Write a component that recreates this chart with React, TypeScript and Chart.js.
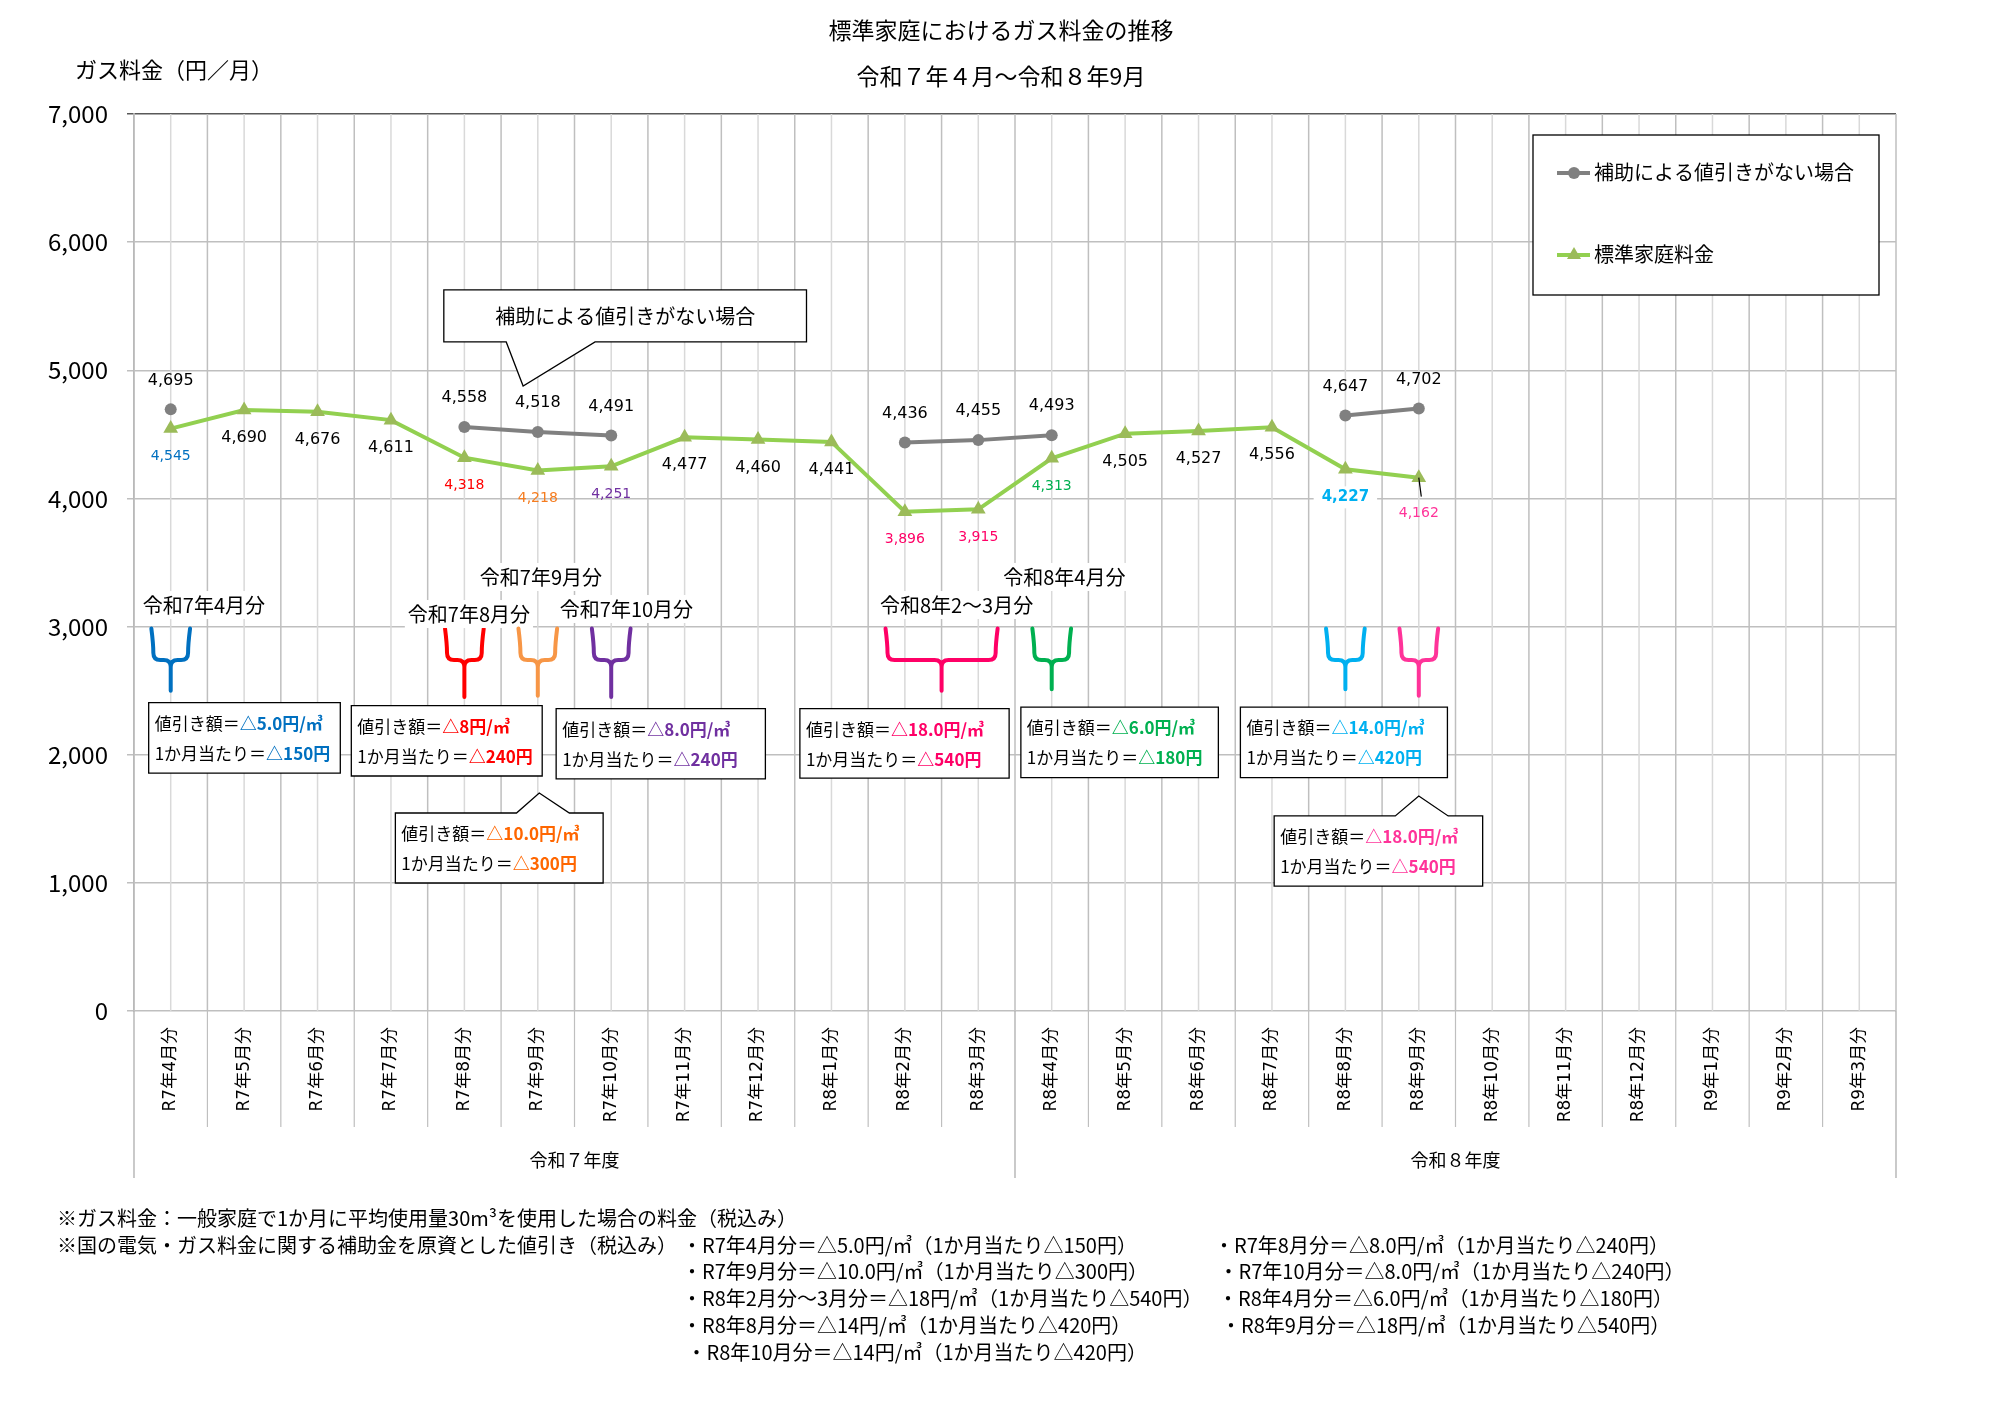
import React, { useEffect, useRef } from 'react';
import { Chart, registerables } from 'chart.js';

Chart.register(...registerables);

// ---------------- data ----------------
const categories = [
  'R7年4月分', 'R7年5月分', 'R7年6月分', 'R7年7月分', 'R7年8月分', 'R7年9月分',
  'R7年10月分', 'R7年11月分', 'R7年12月分', 'R8年1月分', 'R8年2月分', 'R8年3月分',
  'R8年4月分', 'R8年5月分', 'R8年6月分', 'R8年7月分', 'R8年8月分', 'R8年9月分',
  'R8年10月分', 'R8年11月分', 'R8年12月分', 'R9年1月分', 'R9年2月分', 'R9年3月分',
];
const fiscalYears = ['令和７年度', '令和８年度'];

const noSubsidyName = '補助による値引きがない場合';
const noSubsidy: (number | null)[] = [
  4695, null, null, null, 4558, 4518, 4491, null, null, null, 4436, 4455,
  4493, null, null, null, 4647, 4702, null, null, null, null, null, null,
];

const standardName = '標準家庭料金';
const standard: (number | null)[] = [
  4545, 4690, 4676, 4611, 4318, 4218, 4251, 4477, 4460, 4441, 3896, 3915,
  4313, 4505, 4527, 4556, 4227, 4162, null, null, null, null, null, null,
];
const standardLabelColors = [
  '#0070c0', '#000000', '#000000', '#000000', '#ff0000', '#f57c1f', '#7030a0', '#000000', '#000000', '#000000', '#ff0066', '#ff0066',
  '#00b050', '#000000', '#000000', '#000000', '#00b0f0', '#ff3399',
];

const yTicks = [0, 1000, 2000, 3000, 4000, 5000, 6000, 7000];

const titleLines = ['標準家庭におけるガス料金の推移', '令和７年４月～令和８年9月'];
const yAxisTitle = 'ガス料金（円／月）';
const calloutText = '補助による値引きがない場合';

// discount periods (first/last category index, texts, colours)
const periodLabels = ['令和7年4月分', '令和7年8月分', '令和7年9月分', '令和7年10月分', '令和8年2～3月分', '令和8年4月分', '', ''];
const periodFrom = [0, 4, 5, 6, 10, 12, 16, 17];
const periodTo = [0, 4, 5, 6, 11, 12, 16, 17];
const periodPerM3 = ['△5.0円/㎥', '△8円/㎥', '△10.0円/㎥', '△8.0円/㎥', '△18.0円/㎥', '△6.0円/㎥', '△14.0円/㎥', '△18.0円/㎥'];
const periodPerMonth = ['△150円', '△240円', '△300円', '△240円', '△540円', '△180円', '△420円', '△540円'];
const periodBracketColors = ['#0070c0', '#ff0000', '#f79646', '#7030a0', '#ff0066', '#00b050', '#00b0f0', '#ff3399'];
const periodTextColors = ['#0070c0', '#ff0000', '#ff6600', '#7030a0', '#ff0066', '#00b050', '#00b0f0', '#ff3399'];

const footLeft = [
  '※ガス料金：一般家庭で1か月に平均使用量30m³を使用した場合の料金（税込み）',
  '※国の電気・ガス料金に関する補助金を原資とした値引き（税込み）',
];
const footMid = [
  '・R7年4月分＝△5.0円/㎥（1か月当たり△150円）',
  '・R7年9月分＝△10.0円/㎥（1か月当たり△300円）',
  '・R8年2月分～3月分＝△18円/㎥（1か月当たり△540円）',
  '・R8年8月分＝△14円/㎥（1か月当たり△420円）',
  ' ・R8年10月分＝△14円/㎥（1か月当たり△420円）',
];
const footRight = [
  '・R7年8月分＝△8.0円/㎥（1か月当たり△240円）',
  ' ・R7年10月分＝△8.0円/㎥（1か月当たり△240円）',
  '・R8年4月分＝△6.0円/㎥（1か月当たり△180円）',
  '・R8年9月分＝△18円/㎥（1か月当たり△540円）',
];

// ---------------- layout (category units / value units) ----------------
const periodLabelPos: ([number, number] | null)[] = [
  [-0.38, 3168], [3.23, 3098], [4.21, 3387], [5.30, 3137], [9.66, 3168], [11.34, 3387], null, null,
];
const periodTipValue = [2500, 2450, 2460, 2450, 2500, 2510, 2510, 2460];
const periodBox: [number, number, number, number][] = [
  [-0.30, 2.31, 2406, 1857],
  [2.46, 5.06, 2383, 1834],
  [3.06, 5.89, 1545, 999],
  [5.25, 8.10, 2359, 1811],
  [8.57, 11.42, 2359, 1818],
  [11.58, 14.27, 2372, 1821],
  [14.57, 17.39, 2372, 1821],
  [15.03, 17.87, 1522, 975],
];
const periodPointer: ([number, number, number, number] | null)[] = [
  null, null, [4.71, 5.43, 5.02, 1701], null, null, null, null, [16.68, 17.40, 17.0, 1678],
];
const calloutBox: [number, number, number, number] = [3.72, 8.66, 5627, 5221];
const calloutPointer: [number, number, number, number] = [4.57, 5.78, 4.80, 4877];

const JP = '"Noto Sans CJK JP", "Noto Sans", sans-serif';
const NUM = '"DejaVu Sans", "Noto Sans CJK JP", sans-serif';

type Part = { text: string; font: string; color: string };

function drawParts(ctx: CanvasRenderingContext2D, x: number, y: number, parts: Part[]) {
  let cx = x;
  ctx.textAlign = 'left';
  ctx.textBaseline = 'middle';
  for (const p of parts) {
    ctx.font = p.font;
    ctx.fillStyle = p.color;
    ctx.fillText(p.text, cx, y);
    cx += ctx.measureText(p.text).width;
  }
}

function boxPath(
  ctx: CanvasRenderingContext2D,
  l: number, t: number, r: number, b: number,
  ptr: { x0: number; x1: number; tx: number; ty: number } | null,
) {
  ctx.beginPath();
  ctx.moveTo(l, t);
  if (ptr && ptr.ty < t) {
    ctx.lineTo(ptr.x0, t);
    ctx.lineTo(ptr.tx, ptr.ty);
    ctx.lineTo(ptr.x1, t);
  }
  ctx.lineTo(r, t);
  ctx.lineTo(r, b);
  if (ptr && ptr.ty > b) {
    ctx.lineTo(ptr.x1, b);
    ctx.lineTo(ptr.tx, ptr.ty);
    ctx.lineTo(ptr.x0, b);
  }
  ctx.lineTo(l, b);
  ctx.closePath();
}

const overlayPlugin = {
  id: 'overlay',
  beforeDatasetsDraw(chart: any) {
    const ctx: CanvasRenderingContext2D = chart.ctx;
    const xs = chart.scales.x;
    const { top, bottom } = chart.chartArea;
    const xAt = (c: number) => xs.getPixelForValue(c);
    const n = categories.length;
    ctx.save();
    // vertical grid at boundaries and centres
    for (let k = 0; k <= 2 * n; k++) {
      const c = k / 2 - 0.5;
      const px = xAt(c);
      ctx.beginPath();
      ctx.strokeStyle = k % 2 === 0 ? '#bfbfbf' : '#d9d9d9';
      ctx.lineWidth = 1.5;
      ctx.moveTo(px, top);
      ctx.lineTo(px, bottom);
      ctx.stroke();
    }
    // category separators in axis area
    for (let i = 1; i < n; i++) {
      if (i === 12) continue;
      const px = xAt(i - 0.5);
      ctx.beginPath();
      ctx.strokeStyle = '#bfbfbf';
      ctx.lineWidth = 1.2;
      ctx.moveTo(px, bottom);
      ctx.lineTo(px, bottom + 116);
      ctx.stroke();
    }
    // fiscal-year separators
    for (const c of [-0.5, 11.5, 23.5]) {
      const px = xAt(c);
      ctx.beginPath();
      ctx.strokeStyle = '#a6a6a6';
      ctx.lineWidth = 1.2;
      ctx.moveTo(px, bottom);
      ctx.lineTo(px, bottom + 167);
      ctx.stroke();
    }
    ctx.fillStyle = '#000';
    ctx.font = `18px ${JP}`;
    ctx.textAlign = 'center';
    ctx.textBaseline = 'middle';
    ctx.fillText(fiscalYears[0], xAt(5.5), bottom + 149);
    ctx.fillText(fiscalYears[1], xAt(17.5), bottom + 149);
    ctx.restore();
  },
  afterDatasetsDraw(chart: any) {
    const ctx: CanvasRenderingContext2D = chart.ctx;
    const xs = chart.scales.x;
    const ys = chart.scales.y;
    const xAt = (c: number) => xs.getPixelForValue(c);
    const yAt = (v: number) => ys.getPixelForValue(v);
    ctx.save();

    // data labels: no-subsidy series (above)
    const m0 = chart.getDatasetMeta(0);
    ctx.textAlign = 'center';
    ctx.textBaseline = 'middle';
    noSubsidy.forEach((v, i) => {
      if (v == null) return;
      const pt = m0.data[i];
      ctx.font = `16px ${NUM}`;
      ctx.fillStyle = '#000';
      ctx.fillText(v.toLocaleString('en-US'), pt.x, pt.y - 29);
    });
    // standard series (below)
    const m1 = chart.getDatasetMeta(1);
    standard.forEach((v, i) => {
      if (v == null) return;
      const pt = m1.data[i];
      const color = standardLabelColors[i];
      const txt = v.toLocaleString('en-US');
      let dy = 28;
      let font = color === '#000000' ? `16px ${NUM}` : `14px ${NUM}`;
      if (i === 16) {
        font = `bold 15px ${NUM}`;
        ctx.font = font;
        const w = ctx.measureText(txt).width;
        ctx.fillStyle = '#fff';
        ctx.fillRect(pt.x - w / 2 - 8, pt.y + dy - 11, w + 16, 22);
      }
      if (i === 17) {
        dy = 36;
        ctx.beginPath();
        ctx.strokeStyle = '#000';
        ctx.lineWidth = 1.2;
        ctx.moveTo(pt.x, pt.y);
        ctx.lineTo(pt.x + 2.5, pt.y + 19);
        ctx.stroke();
      }
      ctx.font = font;
      ctx.fillStyle = color;
      ctx.textAlign = 'center';
      ctx.fillText(txt, pt.x, pt.y + dy);
    });

    // top callout
    {
      const [c0, c1, v0, v1] = calloutBox;
      const [p0, p1, pc, pv] = calloutPointer;
      const l = xAt(c0), r = xAt(c1), t = yAt(v0), b = yAt(v1);
      boxPath(ctx, l, t, r, b, { x0: xAt(p0), x1: xAt(p1), tx: xAt(pc), ty: yAt(pv) });
      ctx.fillStyle = '#fff';
      ctx.fill();
      ctx.strokeStyle = '#000';
      ctx.lineWidth = 1.3;
      ctx.stroke();
      ctx.font = `20px ${JP}`;
      ctx.fillStyle = '#000';
      ctx.textAlign = 'center';
      ctx.textBaseline = 'middle';
      ctx.fillText(calloutText, (l + r) / 2, (t + b) / 2);
    }

    // discount periods
    for (let k = 0; k < periodFrom.length; k++) {
      // bracket
      const xl = xAt(periodFrom[k] - 0.25);
      const xr = xAt(periodTo[k] + 0.25);
      const xc = (xl + xr) / 2;
      const yTop = yAt(2985);
      const yH = yAt(2740);
      const yTip = yAt(periodTipValue[k]);
      const rr = 7;
      ctx.beginPath();
      ctx.strokeStyle = periodBracketColors[k];
      ctx.lineWidth = 4;
      ctx.lineCap = 'round';
      ctx.lineJoin = 'round';
      ctx.moveTo(xl - 1, yTop);
      ctx.quadraticCurveTo(xl + 1, yTop + (yH - yTop) * 0.5, xl + 1, yH - rr);
      ctx.quadraticCurveTo(xl + 1, yH, xl + 1 + rr, yH);
      ctx.lineTo(xc - rr, yH);
      ctx.quadraticCurveTo(xc, yH, xc, yH + rr);
      ctx.lineTo(xc, yTip);
      ctx.moveTo(xr + 1, yTop);
      ctx.quadraticCurveTo(xr - 1, yTop + (yH - yTop) * 0.5, xr - 1, yH - rr);
      ctx.quadraticCurveTo(xr - 1, yH, xr - 1 - rr, yH);
      ctx.lineTo(xc + rr, yH);
      ctx.quadraticCurveTo(xc, yH, xc, yH + rr);
      ctx.stroke();

      // label
      const lp = periodLabelPos[k];
      if (lp && periodLabels[k]) {
        ctx.font = `20px ${JP}`;
        const w = ctx.measureText(periodLabels[k]).width;
        const lx = xAt(lp[0]);
        const ly = yAt(lp[1]);
        ctx.fillStyle = '#fff';
        ctx.fillRect(lx - 3, ly - 14, w + 6, 28);
        ctx.fillStyle = '#000';
        ctx.textAlign = 'left';
        ctx.textBaseline = 'middle';
        ctx.fillText(periodLabels[k], lx, ly);
      }

      // box
      const [c0, c1, v0, v1] = periodBox[k];
      const l = xAt(c0), r = xAt(c1), t = yAt(v0), b = yAt(v1);
      const pp = periodPointer[k];
      boxPath(ctx, l, t, r, b, pp ? { x0: xAt(pp[0]), x1: xAt(pp[1]), tx: xAt(pp[2]), ty: yAt(pp[3]) } : null);
      ctx.fillStyle = '#fff';
      ctx.fill();
      ctx.strokeStyle = '#000';
      ctx.lineWidth = 1.3;
      ctx.lineJoin = 'miter';
      ctx.stroke();
      const tc = periodTextColors[k];
      drawParts(ctx, l + 6, t + 21, [
        { text: '値引き額＝', font: `17px ${JP}`, color: '#000' },
        { text: periodPerM3[k], font: `bold 17px ${JP}`, color: tc },
      ]);
      drawParts(ctx, l + 6, t + 51, [
        { text: '1か月当たり＝', font: `17px ${JP}`, color: '#000' },
        { text: periodPerMonth[k], font: `bold 17px ${JP}`, color: tc },
      ]);
    }
    ctx.restore();
  },
  afterDraw(chart: any) {
    const ctx: CanvasRenderingContext2D = chart.ctx;
    ctx.save();
    // titles
    ctx.fillStyle = '#000';
    ctx.textAlign = 'center';
    ctx.textBaseline = 'middle';
    ctx.font = `23px ${JP}`;
    ctx.fillText(titleLines[0], 1001, 30);
    ctx.fillText(titleLines[1], 1001, 76);
    ctx.textAlign = 'left';
    ctx.font = `22px ${JP}`;
    ctx.fillText(yAxisTitle, 75, 70);

    // legend
    ctx.fillStyle = '#fff';
    ctx.fillRect(1533, 135, 346, 160);
    ctx.strokeStyle = '#000';
    ctx.lineWidth = 1.3;
    ctx.strokeRect(1533, 135, 346, 160);
    // grey item
    ctx.beginPath();
    ctx.strokeStyle = '#808080';
    ctx.lineWidth = 4;
    ctx.moveTo(1557, 173);
    ctx.lineTo(1590, 173);
    ctx.stroke();
    ctx.beginPath();
    ctx.fillStyle = '#808080';
    ctx.arc(1574, 173, 6, 0, Math.PI * 2);
    ctx.fill();
    // green item
    ctx.beginPath();
    ctx.strokeStyle = '#92d050';
    ctx.lineWidth = 4;
    ctx.moveTo(1557, 255);
    ctx.lineTo(1590, 255);
    ctx.stroke();
    ctx.beginPath();
    ctx.fillStyle = '#9bbb59';
    ctx.moveTo(1574, 255 - 8);
    ctx.lineTo(1574 + 7, 255 + 4);
    ctx.lineTo(1574 - 7, 255 + 4);
    ctx.closePath();
    ctx.fill();
    ctx.fillStyle = '#000';
    ctx.font = `20px ${JP}`;
    ctx.textBaseline = 'middle';
    ctx.fillText(noSubsidyName, 1594, 172);
    ctx.fillText(standardName, 1594, 254);

    // footnotes
    ctx.font = `20px ${JP}`;
    ctx.fillStyle = '#000';
    ctx.fillText(footLeft[0], 57, 1218);
    ctx.fillText(footLeft[1], 57, 1245);
    footMid.forEach((s, i) => ctx.fillText(s, 682, 1245 + i * 26.8));
    const rightX = [1214, 1214, 1218, 1221];
    footRight.forEach((s, i) => ctx.fillText(s, rightX[i], 1245 + i * 26.8));
    ctx.restore();
  },
};

export default function App() {
  const ref = useRef<HTMLCanvasElement>(null);
  useEffect(() => {
    document.body.style.margin = '0';
    const canvas = ref.current;
    if (!canvas) return;
    const chart = new Chart(canvas, {
      type: 'line',
      data: {
        labels: categories,
        datasets: [
          {
            label: noSubsidyName,
            data: noSubsidy,
            borderColor: '#808080',
            backgroundColor: '#808080',
            borderWidth: 4,
            pointRadius: 6,
            pointStyle: 'circle',
            pointBackgroundColor: '#808080',
            pointBorderColor: '#808080',
            pointBorderWidth: 0,
            spanGaps: false,
            tension: 0,
          },
          {
            label: standardName,
            data: standard,
            borderColor: '#92d050',
            backgroundColor: '#9bbb59',
            borderWidth: 4,
            pointRadius: 8.5,
            pointStyle: 'triangle',
            pointBackgroundColor: '#9bbb59',
            pointBorderColor: '#9bbb59',
            pointBorderWidth: 0,
            spanGaps: false,
            tension: 0,
          },
        ],
      },
      options: {
        responsive: false,
        devicePixelRatio: 1,
        animation: false,
        events: [],
        layout: { padding: { top: 114, right: 104, bottom: 0, left: 0 } },
        plugins: {
          legend: { display: false },
          title: { display: false },
          tooltip: { enabled: false },
        },
        scales: {
          x: {
            type: 'category',
            offset: true,
            grid: { display: false, drawTicks: false },
            border: { display: false },
            ticks: {
              autoSkip: false,
              maxRotation: 90,
              minRotation: 90,
              padding: 16,
              color: '#000',
              font: { family: NUM, size: 17 },
            },
            afterFit: (scale: any) => {
              scale.height = 396;
            },
          },
          y: {
            min: 0,
            max: 7000,
            afterBuildTicks: (scale: any) => {
              scale.ticks = yTicks.map((v) => ({ value: v }));
            },
            ticks: {
              color: '#000',
              padding: 19,
              font: { family: JP, size: 24 },
              callback: (v: any) => Number(v).toLocaleString('en-US'),
            },
            grid: {
              color: (c: any) => (c.tick && c.tick.value === 7000 ? '#595959' : '#bfbfbf'),
              lineWidth: 1.5,
              tickLength: 7,
            },
            border: { display: true, color: '#a6a6a6', width: 1.5 },
            afterFit: (scale: any) => {
              scale.width = 134;
            },
          },
        },
      },
      plugins: [overlayPlugin],
    } as any);
    return () => chart.destroy();
  }, []);
  return (
    <div style={{ width: 2000, height: 1407, background: '#fff' }}>
      <canvas ref={ref} width={2000} height={1407} style={{ display: 'block' }} />
    </div>
  );
}
